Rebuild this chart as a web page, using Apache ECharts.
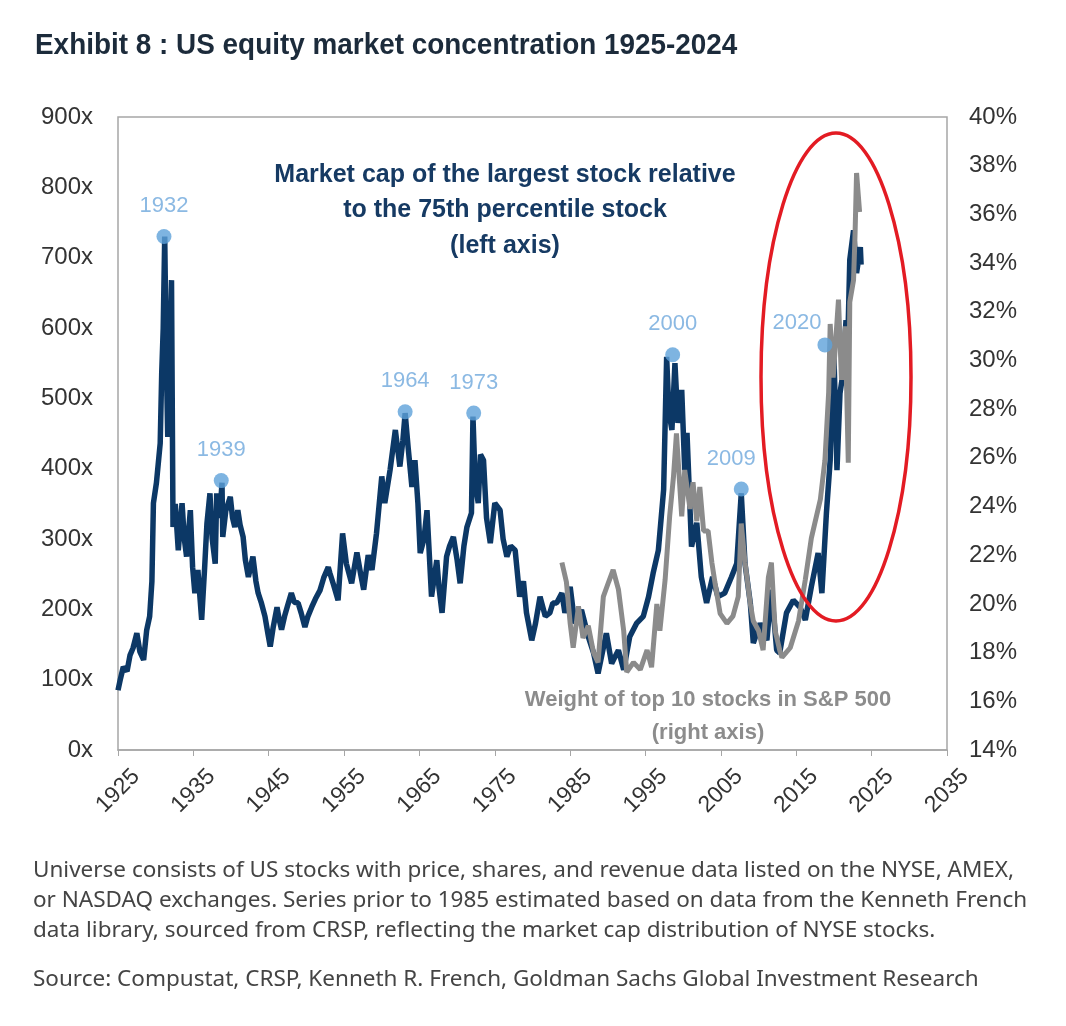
<!DOCTYPE html>
<html>
<head>
<meta charset="utf-8">
<script src="https://cdn.jsdelivr.net/npm/echarts@6/dist/echarts.min.js"></script>
<style>
  html, body { margin: 0; padding: 0; background: #fff; }
  #chart { width: 1066px; height: 1026px; }
</style>
</head>
<body>
<div id="chart"></div>
<script>
// market cap of largest stock / 75th percentile stock (left axis, x)
var blueYears = [1925.0,1925.3,1925.7,1926.2,1926.6,1927.0,1927.5,1927.9,1928.4,1928.8,1929.2,1929.5,1929.7,1930.1,1930.6,1930.8,1931.0,1931.2,1931.4,1931.6,1931.8,1932.1,1932.3,1932.6,1933.0,1933.5,1933.8,1934.1,1934.6,1934.9,1935.2,1935.6,1936.1,1936.5,1936.8,1937.2,1937.5,1937.9,1938.1,1938.5,1938.8,1938.9,1939.3,1939.9,1940.2,1940.5,1940.9,1941.2,1941.6,1941.9,1942.3,1942.9,1943.3,1943.6,1944.0,1944.5,1944.9,1945.2,1945.6,1946.1,1946.4,1946.7,1947.1,1947.5,1948.0,1948.4,1948.9,1949.3,1949.8,1950.2,1950.7,1951.2,1951.8,1952.3,1952.9,1953.1,1953.6,1954.2,1954.8,1955.3,1956.0,1956.7,1957.2,1957.6,1958.2,1958.7,1959.3,1960.0,1960.4,1961.1,1961.8,1962.4,1962.8,1963.1,1963.5,1964.0,1964.4,1964.8,1965.1,1965.6,1966.0,1966.6,1967.3,1967.6,1968.0,1968.6,1969.0,1969.5,1970.0,1970.4,1970.9,1971.3,1971.9,1972.1,1972.4,1972.8,1973.1,1973.5,1973.9,1974.4,1975.0,1975.7,1976.1,1976.6,1977.1,1977.7,1978.3,1978.8,1979.2,1979.9,1980.4,1981.0,1981.7,1982.3,1982.7,1983.2,1983.9,1984.3,1985.0,1985.6,1986.5,1987.4,1988.1,1988.7,1989.3,1989.8,1990.5,1991.4,1992.1,1992.9,1993.8,1994.7,1995.4,1996.0,1996.7,1997.4,1997.8,1998.1,1998.5,1998.9,1999.3,1999.8,2000.2,2000.5,2001.1,2001.8,2002.4,2003.1,2003.9,2004.6,2005.5,2006.4,2007.1,2007.7,2008.2,2008.9,2009.3,2010.2,2011.1,2011.7,2012.4,2012.8,2013.7,2014.6,2015.5,2016.2,2017.0,2017.9,2018.4,2019.0,2019.5,2019.7,2020.0,2020.4,2020.8,2021.2,2021.6,2021.8,2022.1,2022.6,2023.0,2023.5,2023.6];
var blueValues = [85,100,118,112,135,145,166,140,128,170,190,240,351,380,436,536,600,730,560,445,520,668,317,350,284,351,300,275,341,260,223,256,185,260,322,365,300,265,365,330,380,303,340,360,330,317,341,320,303,270,246,275,240,223,210,190,165,147,175,203,185,171,190,205,223,210,209,195,175,190,203,215,227,245,260,252,235,213,308,265,237,281,250,228,277,256,308,389,351,398,455,403,440,479,430,374,412,350,280,300,341,218,270,230,195,275,290,303,270,237,290,317,337,474,380,351,420,412,330,294,351,341,300,275,290,284,218,240,195,156,180,218,190,195,209,209,223,195,232,180,199,161,138,109,140,166,123,142,114,161,180,190,218,251,284,370,559,480,455,550,465,512,398,451,289,323,246,209,246,218,223,246,265,365,265,209,152,180,156,228,142,138,195,213,203,185,232,280,223,337,412,493,560,398,507,536,611,564,697,739,678,715,690];

// weight of top 10 stocks in S&P 500 (right axis, %)
var grayYears = [1983.9,1984.5,1985.0,1985.4,1986.1,1986.7,1987.4,1988.1,1988.7,1989.4,1990.1,1990.7,1991.4,1992.1,1992.5,1993.4,1994.3,1995.2,1995.8,1996.5,1996.9,1997.6,1998.2,1998.7,1999.1,1999.8,2000.2,2000.9,2001.3,2001.8,2002.2,2002.7,2003.3,2003.8,2004.2,2004.9,2005.8,2006.6,2007.3,2007.7,2008.2,2008.9,2009.3,2010.0,2010.6,2011.3,2011.7,2012.2,2012.8,2013.1,2014.2,2015.3,2016.2,2017.0,2018.2,2018.8,2019.3,2019.5,2019.9,2020.6,2021.0,2021.5,2021.9,2022.1,2022.6,2022.8,2023.0,2023.4];
var grayValues = [21.7,20.9,19.2,18.2,19.9,18.6,19.1,18.0,17.6,20.3,20.9,21.4,20.6,18.9,17.2,17.6,17.3,18.1,17.4,20.0,18.9,21.0,23.6,25.2,27.0,23.6,25.5,23.9,25.0,23.4,24.8,23.0,23.0,21.7,20.9,19.6,19.2,19.5,20.3,23.3,21.7,20.0,19.3,18.9,18.1,21.1,21.7,18.9,18.1,17.8,18.2,19.3,21.0,22.7,24.3,25.9,28.7,31.5,29.3,32.5,29.2,31.4,25.8,32.4,33.3,35.2,37.7,36.1];

// highlighted peaks
var peakLabels = ['1932','1939','1964','1973','2000','2009','2020'];
var peakYears = [1931.1,1938.7,1963.1,1972.2,1998.6,2007.7,2018.8];
var peakValues = [730,383,481,479,562,371,576];

var xTicks = [1925,1935,1945,1955,1965,1975,1985,1995,2005,2015,2025,2035];

var blueData = blueYears.map(function (y, i) { return [y, blueValues[i]]; });
var grayData = grayYears.map(function (y, i) { return [y, grayValues[i]]; });
var labelOffset = { '2009': [-10, 0], '2020': [-28, 9] };
var peakData = peakYears.map(function (y, i) {
  var item = { value: [y, peakValues[i]], name: peakLabels[i] };
  if (labelOffset[peakLabels[i]]) item.label = { offset: labelOffset[peakLabels[i]] };
  return item;
});

var axisFont = "'Liberation Sans', Arial, sans-serif";
var noteFont = "22.5px 'Noto Sans', 'Open Sans', sans-serif";

var chart = echarts.init(document.getElementById('chart'), null, { renderer: 'canvas' });
chart.setOption({
  animation: false,
  backgroundColor: '#fff',
  grid: {
    left: 118, right: 119, top: 117, bottom: 276,
    show: true, borderColor: '#a6a6a6', borderWidth: 1.5, backgroundColor: 'transparent'
  },
  xAxis: {
    type: 'value', min: 1925, max: 2035,
    axisLine: { lineStyle: { color: '#a6a6a6', width: 1.5 } },
    axisTick: { show: true, length: 6, customValues: xTicks, lineStyle: { color: '#a6a6a6' } },
    axisLabel: {
      customValues: xTicks, rotate: 45, margin: 41, align: 'center', verticalAlign: 'middle',
      formatter: function (v) { return String(v); },
      fontFamily: axisFont, fontSize: 23, color: '#333'
    },
    splitLine: { show: false }
  },
  yAxis: [{
    type: 'value', min: 0, max: 900, interval: 100,
    axisLine: { show: false }, axisTick: { show: false }, splitLine: { show: false },
    axisLabel: { formatter: '{value}x', margin: 25, fontFamily: axisFont, fontSize: 24, color: '#333' }
  }, {
    type: 'value', min: 14, max: 40, interval: 2, position: 'right',
    axisLine: { show: false }, axisTick: { show: false }, splitLine: { show: false },
    axisLabel: { formatter: '{value}%', margin: 22, fontFamily: axisFont, fontSize: 24, color: '#333' }
  }],
  series: [{
    name: 'Largest / 75th percentile', type: 'line', yAxisIndex: 0, data: blueData,
    showSymbol: false, lineStyle: { color: '#0c3866', width: 5.5 }, z: 2
  }, {
    name: 'Top 10 weight', type: 'line', yAxisIndex: 1, data: grayData,
    showSymbol: false, lineStyle: { color: '#8b8b8b', width: 5 }, z: 3
  }, {
    name: 'Peaks', type: 'scatter', yAxisIndex: 0, data: peakData,
    symbolSize: 15, itemStyle: { color: '#5ea1da' }, z: 4,
    label: {
      show: true, position: 'top', distance: 12, formatter: '{b}',
      fontFamily: axisFont, fontSize: 22, color: '#6ea8dc'
    }
  }],
  graphic: [{
    type: 'text', x: 35, y: 31, scaleX: 0.93,
    style: {
      text: 'Exhibit 8 : US equity market concentration 1925-2024',
      font: "bold 30px 'Liberation Sans', Arial, sans-serif", fill: '#1c2b3b'
    }
  }, {
    type: 'text', x: 505, y: 157,
    style: {
      text: 'Market cap of the largest stock relative\nto the 75th percentile stock\n(left axis)',
      font: "bold 25px 'Liberation Sans', Arial, sans-serif", fill: '#163a63',
      textAlign: 'center', lineHeight: 35.5
    }
  }, {
    type: 'text', x: 708, y: 683,
    style: {
      text: 'Weight of top 10 stocks in S&P 500\n(right axis)',
      font: "bold 22px 'Liberation Sans', Arial, sans-serif", fill: '#8c8c8c',
      textAlign: 'center', lineHeight: 33
    }
  }, {
    type: 'ellipse', shape: { cx: 836, cy: 377, rx: 75, ry: 244 },
    style: { fill: null, stroke: '#e31b23', lineWidth: 3.5 }, z: 10
  }, {
    type: 'text', left: 33, top: 856,
    style: {
      text: 'Universe consists of US stocks with price, shares, and revenue data listed on the NYSE, AMEX,\nor NASDAQ exchanges. Series prior to 1985 estimated based on data from the Kenneth French\ndata library, sourced from CRSP, reflecting the market cap distribution of NYSE stocks.',
      font: noteFont, fill: '#444', lineHeight: 30
    }
  }, {
    type: 'text', left: 33, top: 968,
    style: {
      text: 'Source: Compustat, CRSP, Kenneth R. French, Goldman Sachs Global Investment Research',
      font: noteFont, fill: '#444'
    }
  }]
});
</script>
</body>
</html>
